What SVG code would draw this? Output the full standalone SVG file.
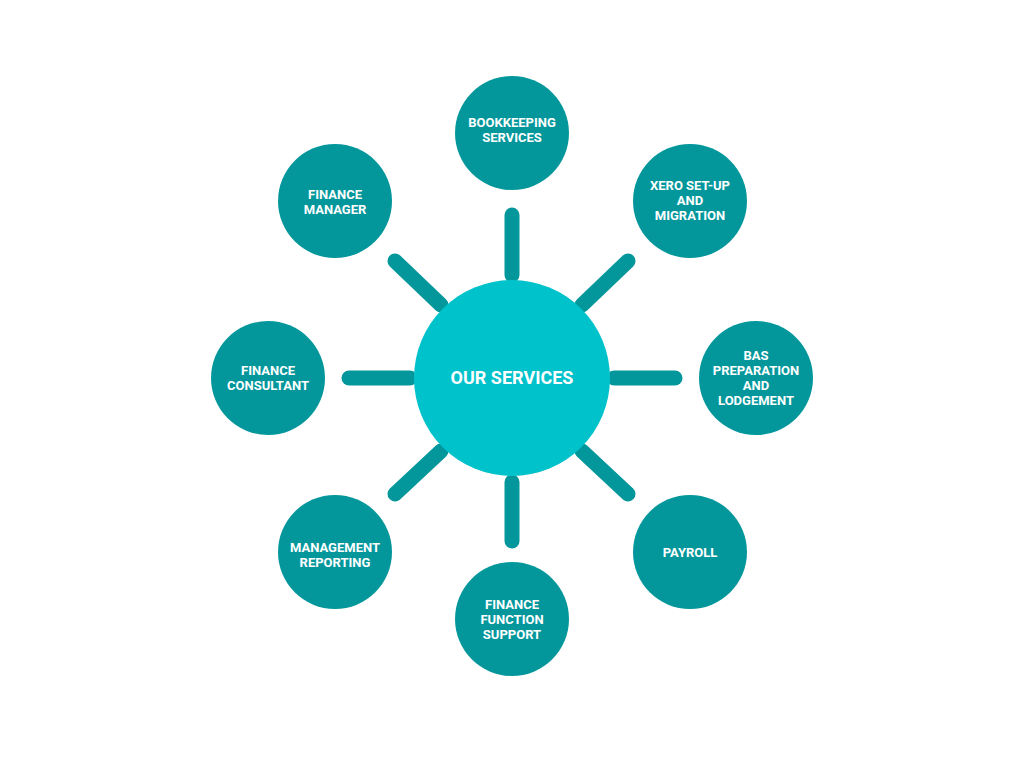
<svg xmlns="http://www.w3.org/2000/svg" width="1024" height="768" viewBox="0 0 1024 768">
<style>
.n{fill:#03979c}
.t{fill:#fff;font-family:Roboto,"Liberation Sans",sans-serif;font-weight:bold;font-size:13px;text-anchor:middle}
.s{stroke:#03979c;stroke-width:15;stroke-linecap:round}
</style>
<rect width="1024" height="768" fill="#fff"/>
<g id="connectors">
<line class="s" x1="512" y1="215" x2="512" y2="275"/>
<line class="s" x1="512" y1="482" x2="512" y2="541"/>
<line class="s" x1="349" y1="378" x2="410" y2="378"/>
<line class="s" x1="614" y1="378" x2="675" y2="378"/>
<line class="s" x1="395" y1="261" x2="441" y2="305"/>
<line class="s" x1="628" y1="261" x2="582" y2="305"/>
<line class="s" x1="395" y1="494" x2="441" y2="451"/>
<line class="s" x1="628" y1="494" x2="582" y2="451"/>
</g>
<g id="center"><circle cx="512" cy="378" r="98" fill="#00c2cb"/><text class="t" x="512" y="384" style="font-size:18px">OUR SERVICES</text></g>
<g id="bookkeeping"><circle class="n" cx="512" cy="133" r="57"/><text class="t" x="512" y="127">BOOKKEEPING</text><text class="t" x="512" y="142">SERVICES</text></g>
<g id="xero"><circle class="n" cx="690" cy="201" r="57"/><text class="t" x="690" y="190">XERO SET-UP</text><text class="t" x="690" y="205">AND</text><text class="t" x="690" y="220">MIGRATION</text></g>
<g id="bas"><circle class="n" cx="756" cy="378" r="57"/><text class="t" x="756" y="360">BAS</text><text class="t" x="756" y="375">PREPARATION</text><text class="t" x="756" y="390">AND</text><text class="t" x="756" y="405">LODGEMENT</text></g>
<g id="payroll"><circle class="n" cx="690" cy="552" r="57"/><text class="t" x="690" y="557">PAYROLL</text></g>
<g id="ffs"><circle class="n" cx="512" cy="619" r="57"/><text class="t" x="512" y="609">FINANCE</text><text class="t" x="512" y="624">FUNCTION</text><text class="t" x="512" y="639">SUPPORT</text></g>
<g id="mr"><circle class="n" cx="335" cy="552" r="57"/><text class="t" x="335" y="552">MANAGEMENT</text><text class="t" x="335" y="567">REPORTING</text></g>
<g id="fc"><circle class="n" cx="268" cy="378" r="57"/><text class="t" x="268" y="375">FINANCE</text><text class="t" x="268" y="390">CONSULTANT</text></g>
<g id="fm"><circle class="n" cx="335" cy="201" r="57"/><text class="t" x="335" y="199">FINANCE</text><text class="t" x="335" y="214">MANAGER</text></g>
</svg>
